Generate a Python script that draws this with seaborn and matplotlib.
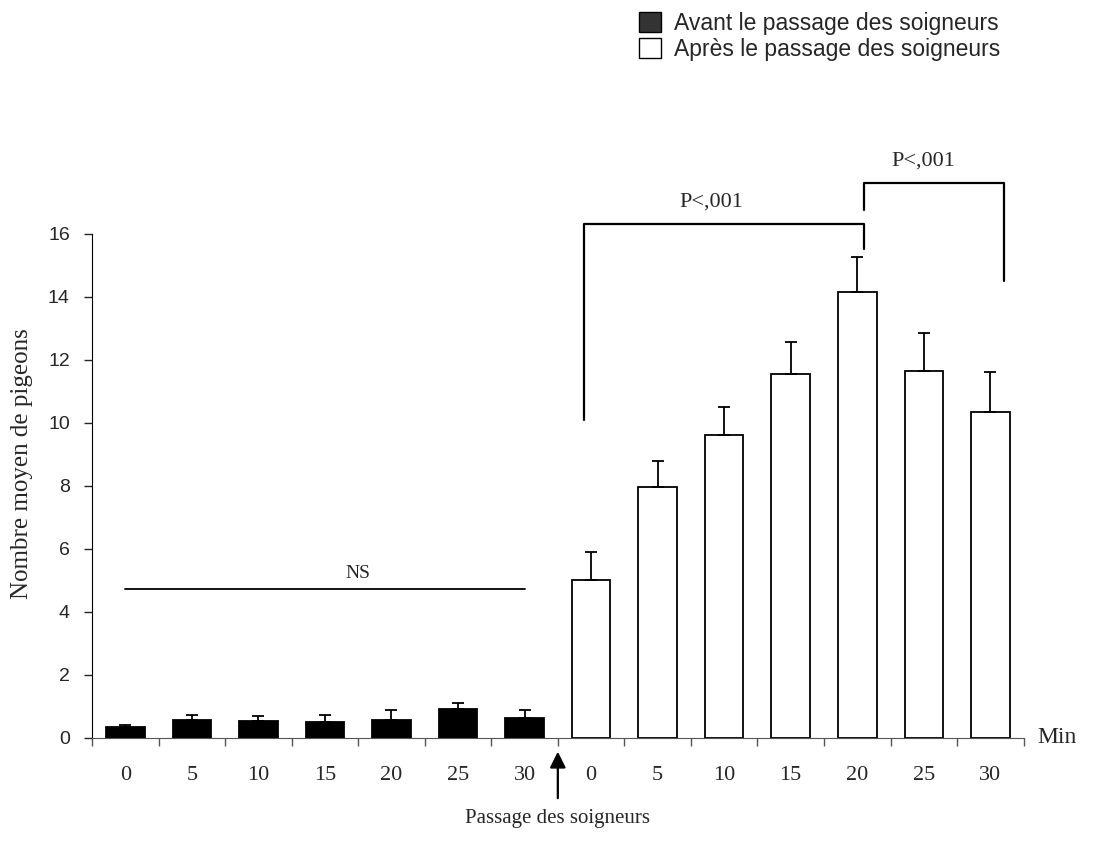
import numpy as np
import pandas as pd
import seaborn as sns
import matplotlib.pyplot as plt
from matplotlib.patches import Patch

# data
minutes = ["0", "5", "10", "15", "20", "25", "30"]
avant_mean = [0.33, 0.57, 0.54, 0.50, 0.57, 0.92, 0.63]
avant_err = [0.07, 0.17, 0.16, 0.24, 0.31, 0.20, 0.25]
apres_mean = [5.0, 7.95, 9.6, 11.55, 14.15, 11.65, 10.35]
apres_err = [0.9, 0.85, 0.9, 1.0, 1.1, 1.2, 1.25]

n = len(minutes)
df = pd.DataFrame({
    "slot": list(range(2 * n)),
    "value": avant_mean + apres_mean,
    "err": avant_err + apres_err,
    "periode": ["Avant"] * n + ["Après"] * n,
})

sns.set_style("white")
serif = "Liberation Serif"
sans = "Liberation Sans"

fig = plt.figure(figsize=(11.09, 8.59), dpi=100)
ax = fig.add_axes([0.083, 0.141, 0.840, 0.697])

sns.barplot(data=df, x="slot", y="value", hue="periode", dodge=False,
            palette={"Avant": "black", "Après": "white"}, edgecolor="black",
            linewidth=1.3, width=0.58, legend=False, ax=ax)

ax.errorbar(df["slot"], df["value"], yerr=[np.zeros(len(df)), df["err"]],
            fmt="none", ecolor="black", elinewidth=1.3, capsize=4, capthick=1.3)

ax.set_xlim(-0.5, 2 * n - 0.5)
ax.set_ylim(0, 19)
for s in ["top", "right"]:
    ax.spines[s].set_visible(False)
ax.spines["left"].set_bounds(0, 16)
ax.spines["bottom"].set_position(("data", 0))
ax.spines["bottom"].set_color("#555555")
ax.spines["left"].set_color("black")

ax.set_yticks(range(0, 17, 2))
ax.set_yticklabels([str(v) for v in range(0, 17, 2)], fontfamily=sans, fontsize=14)
ax.tick_params(axis="y", direction="out", length=6, width=1, pad=10, left=True)

ax.set_xticks(np.arange(-0.5, 2 * n, 1.0))
ax.set_xticklabels([])
ax.set_xticks(range(2 * n), minor=True)
ax.set_xticklabels(minutes + minutes, minor=True, fontfamily=serif, fontsize=16)
ax.tick_params(axis="x", which="major", direction="out", length=6, width=1,
               color="#555555", bottom=True)
ax.tick_params(axis="x", which="minor", length=0, pad=20)

ax.set_xlabel("")
ax.set_ylabel("Nombre moyen de pigeons", fontfamily=serif, fontsize=18)
ax.yaxis.set_label_coords(-0.063, 0.458)

ax.text(2 * n - 0.3, 0, "Min", fontfamily=serif, fontsize=17, va="center", ha="left")

# NS line over the "avant" bars
ax.plot([0, 6], [4.73, 4.73], color="black", lw=1.3)
ax.text(3.5, 4.95, "NS", fontfamily=serif, fontsize=14, ha="center", va="bottom")

# significance brackets
ax.plot([6.9, 6.9, 11.1, 11.1], [10.1, 16.3, 16.3, 15.5], color="black", lw=1.6)
ax.text(8.8, 16.7, "P<,001", fontfamily=serif, fontsize=16, ha="center", va="bottom")
ax.plot([11.1, 11.1, 13.2, 13.2], [16.75, 17.6, 17.6, 14.5], color="black", lw=1.6)
ax.text(12.0, 18.0, "P<,001", fontfamily=serif, fontsize=16, ha="center", va="bottom")

# arrow marking the keepers' visit
ax.annotate("", xy=(6.5, -0.35), xytext=(6.5, -2.0),
            arrowprops=dict(arrowstyle="-|>", color="black", lw=1.6, mutation_scale=24),
            annotation_clip=False)
ax.text(6.5, -2.25, "Passage des soigneurs", fontfamily=serif, fontsize=15,
        ha="center", va="top")

handles = [Patch(facecolor="#333333", edgecolor="black", label="Avant le passage des soigneurs"),
           Patch(facecolor="white", edgecolor="black", label="Après le passage des soigneurs")]
fig.legend(handles=handles, loc="upper left", bbox_to_anchor=(0.562, 1.005), frameon=False,
           prop={"family": sans, "size": 16.5}, handlelength=0.95, handleheight=0.95,
           handletextpad=0.55, labelspacing=0.15, borderaxespad=0.3)

fig.savefig("out.png", dpi=100)
